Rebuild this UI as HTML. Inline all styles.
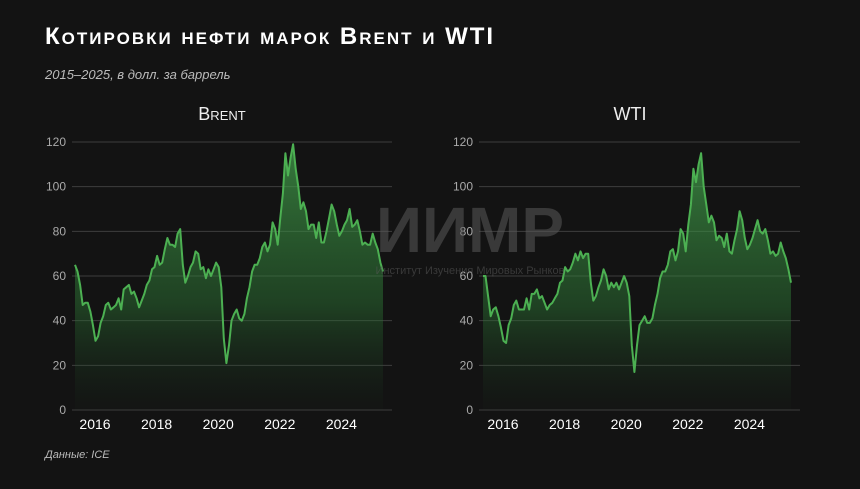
<!DOCTYPE html>
<html><head><meta charset="utf-8">
<style>
html,body{margin:0;padding:0;background:#131313;}
body{width:860px;height:484px;overflow:hidden;position:relative;font-family:"Liberation Sans",sans-serif;}
</style></head>
<body>
<svg id="svg" width="860" height="484" xmlns="http://www.w3.org/2000/svg">
<defs>
<linearGradient id="fill" x1="0" y1="0" x2="0" y2="1">
<stop offset="0" stop-color="#46a84f" stop-opacity="0.7"/>
<stop offset="0.6" stop-color="#2e7a36" stop-opacity="0.45"/>
<stop offset="1" stop-color="#1c3a20" stop-opacity="0.05"/>
</linearGradient>
</defs>
<rect width="860" height="484" fill="#131313"/>
<text x="45" y="44" fill="#fff" font-size="24" font-weight="bold" letter-spacing="2" style="font-variant:small-caps">Котировки нефти марок Brent и WTI</text>
<text x="45" y="79" fill="#bbb" font-size="13" font-style="italic">2015–2025, в долл. за баррель</text>
<text x="222" y="120" fill="#eee" font-size="18" text-anchor="middle" style="font-variant:small-caps">Brent</text>
<text x="630" y="120" fill="#eee" font-size="18" text-anchor="middle">WTI</text>
<g id="wm">
<text x="470" y="252" fill="#5a5a5a" fill-opacity="0.55" font-size="64" font-weight="bold" text-anchor="middle">ИИМР</text>
<text x="470" y="274" fill="#5a5a5a" fill-opacity="0.55" font-size="11" text-anchor="middle">Институт Изучения Мировых Рынков</text>
</g>
<text x="45" y="458" fill="#bbb" font-size="11" font-style="italic">Данные: ICE</text>
</svg>
<script>
const yTicks = [0,20,40,60,80,100,120];
const xYears = [2016,2018,2020,2022,2024];
const startYear = 2015.35;
const brentValues = [65,62,56,47,48,48,44,38,
31,33,39,42,47,48,45,46,47,50,45,54,
55,56,52,53,50,46,49,52,56,58,63,64,
69,65,66,72,77,74,74,73,79,81,65,57,
60,64,66,71,70,63,64,59,63,60,63,66,
64,55,32,21,29,40,43,45,41,40,43,50,
55,62,65,65,68,73,75,71,74,84,81,74,
86,97,115,105,113,119,108,100,90,93,89,81,
83,83,77,84,75,75,80,86,92,89,83,78,
80,83,85,90,82,83,85,80,74,75,74,74,
79,75,72,66,62];
const wtiValues = [60,60,51,42,45,46,42,37,
31,30,38,41,47,49,45,45,45,50,45,52,
52,54,50,51,48,45,47,48,50,52,57,58,
64,62,63,66,70,67,71,68,70,70,57,49,
51,55,58,63,60,54,57,55,57,54,57,60,
57,51,29,17,29,38,40,42,39,39,41,47,
52,59,62,62,65,71,72,67,71,81,79,71,
83,92,108,102,110,115,100,92,84,87,84,76,
78,77,73,79,71,70,76,81,89,85,77,72,
74,77,81,85,80,79,81,76,70,71,69,70,
75,71,68,63,57];

const NS="http://www.w3.org/2000/svg";
const svg=document.getElementById('svg');
const wm=document.getElementById('wm');
function mk(tag,attrs){const e=document.createElementNS(NS,tag);for(const k in attrs)e.setAttribute(k,attrs[k]);return e;}

function panel(p){
  const yScale=v=>410-(v/120)*268;
  const xScale=t=>p.x2016+(t-2016)*p.pxYear;
  const g=mk('g',{});
  
  
  svg.insertBefore(g,wm);
  yTicks.forEach(v=>{
    const l=mk('line',{x1:p.gx1,x2:p.gx2,y1:yScale(v),y2:yScale(v),stroke:'#3e3e3e','stroke-width':1});
    
    
    g.appendChild(l);
    const t=mk('text',{x:p.gx1-6,y:yScale(v)+4,fill:'#aaa','font-size':12,'text-anchor':'end'});
    t.textContent=v;
    
    
    g.appendChild(t);
  });
  xYears.forEach(y=>{
    const t=mk('text',{x:xScale(y),y:429,fill:'#fff','font-size':14,'text-anchor':'middle'});
    t.textContent=y;
    
    
    g.appendChild(t);
  });
  const vals=p.values;
  const pts=vals.map((v,i)=>[xScale(startYear+i/12),yScale(v)]);
  const d=pts.map((q,i)=>(i?'L':'M')+q[0].toFixed(1)+','+q[1].toFixed(1)).join('');
  const area=mk('path',{d:d+'L'+pts[pts.length-1][0].toFixed(1)+','+yScale(0)+'L'+pts[0][0].toFixed(1)+','+yScale(0)+'Z',fill:'url(#fill)'});
  
  
  g.appendChild(area);
  const line=mk('path',{d:d,fill:'none',stroke:'#4cb052','stroke-width':2,'stroke-linejoin':'round'});
  
  
  g.appendChild(line);
}
panel({name:'brent',values:brentValues,x2016:95,pxYear:30.8,gx1:72,gx2:392});
panel({name:'wti',values:wtiValues,x2016:503,pxYear:30.8,gx1:479,gx2:800});
</script>
</body></html>
